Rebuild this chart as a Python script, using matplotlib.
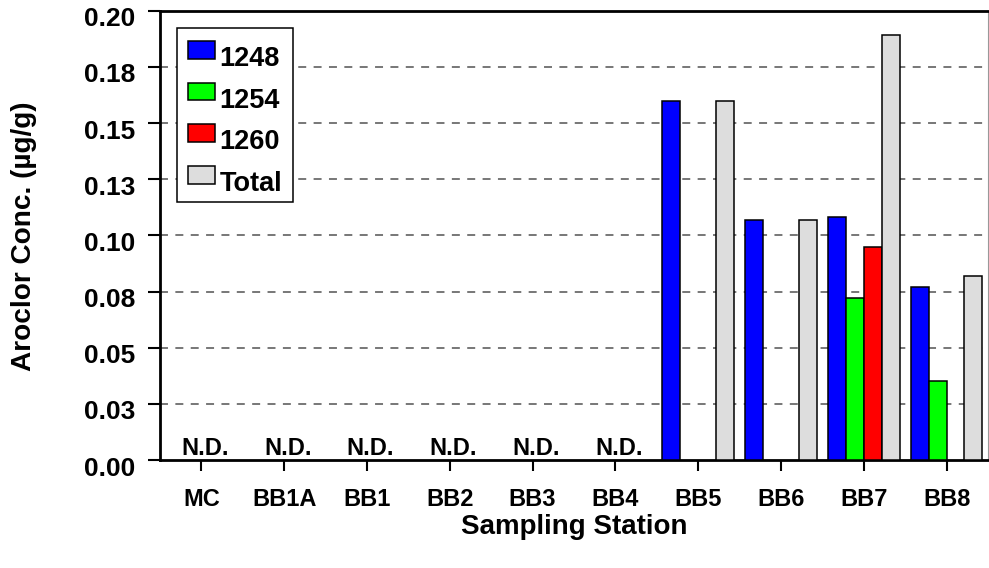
import numpy as np
import matplotlib
matplotlib.use("Agg")
import matplotlib.pyplot as plt
from matplotlib.transforms import ScaledTranslation

plt.rcParams["font.family"] = ["Liberation Sans", "DejaVu Sans"]
plt.rcParams["font.weight"] = "bold"

nan = np.nan
stations = ["MC", "BB1A", "BB1", "BB2", "BB3", "BB4", "BB5", "BB6", "BB7", "BB8"]
aro_1248 = [nan, nan, nan, nan, nan, nan, 0.160, 0.107, 0.108, 0.077]
aro_1254 = [nan, nan, nan, nan, nan, nan, nan, nan, 0.072, 0.035]
aro_1260 = [nan, nan, nan, nan, nan, nan, nan, nan, 0.095, nan]
aro_total = [nan, nan, nan, nan, nan, nan, 0.160, 0.107, 0.189, 0.082]
not_detected = ["MC", "BB1A", "BB1", "BB2", "BB3", "BB4"]
ytick_vals = [0.0, 0.025, 0.05, 0.075, 0.1, 0.125, 0.15, 0.175, 0.2]
ytick_labels = ["0.00", "0.03", "0.05", "0.08", "0.10", "0.13", "0.15", "0.18", "0.20"]

series = [("1248", aro_1248, "#0000ff"),
          ("1254", aro_1254, "#00ff00"),
          ("1260", aro_1260, "#ff0000"),
          ("Total", aro_total, "#dddddd")]

fig = plt.figure(figsize=(9.89, 5.68), dpi=100)
ax = fig.add_axes([160/989, 108/568, 828/989, 449.3/568])

x = np.arange(len(stations))
w = 0.216
for i, (name, vals, col) in enumerate(series):
    ax.bar(x + (i - 1.5)*w, vals, w, color=col, edgecolor="black",
           linewidth=1.1, label=name, zorder=3)

# N.D. labels sit a little right of the tick in the original
nd_off = ScaledTranslation(0.036, 0, fig.dpi_scale_trans)
for s in not_detected:
    ax.text(stations.index(s), 0.0022, "N.D.", ha="center", va="baseline",
            fontsize=17, fontweight="bold", zorder=4,
            transform=ax.transData + nd_off)

ax.set_xlim(-0.5, 9.5)
ax.set_ylim(0, 0.2)
ax.set_xticks(x)
ax.set_xticklabels(stations, fontsize=17, fontweight="bold")
ax.set_yticks(ytick_vals)
ax.set_yticklabels(ytick_labels, fontsize=19, fontweight="bold")
ax.tick_params(axis="both", direction="out", width=1.5, color="black")
ax.tick_params(axis="x", length=8, pad=12)
ax.tick_params(axis="y", length=9, pad=8.5)
off = ScaledTranslation(0, -0.06, fig.dpi_scale_trans)
for lab in ax.get_yticklabels():
    lab.set_transform(lab.get_transform() + off)

for yv in ytick_vals[1:-1]:
    ax.axhline(yv, color="#777777", lw=1.4, ls=(0, (4.1, 3.8)), zorder=1)

for sp in ax.spines.values():
    sp.set_linewidth(2.0)
ax.spines["right"].set_linewidth(0.8)
ax.spines["right"].set_color("#999999")

leg = ax.legend(loc="upper left", bbox_to_anchor=(0.0205, 0.9615),
                borderaxespad=0, fancybox=False, framealpha=1,
                edgecolor="black", fontsize=19.5, handlelength=1.0,
                handleheight=0.63, handletextpad=0.15, labelspacing=0.58,
                borderpad=0.42)
leg.get_frame().set_linewidth(1.1)
txt_off = ScaledTranslation(0, -0.065, fig.dpi_scale_trans)
for t in leg.get_texts():
    t.set_fontweight("bold")
    t.set_transform(t.get_transform() + txt_off)

fig.text(24.5/989, 1 - 236.7/568, "Aroclor Conc. (\u00b5g/g)", rotation=90,
         ha="center", va="center", fontsize=20.2, fontweight="bold")
fig.text(574/989, 1 - 527/568, "Sampling Station", ha="center", va="center",
         fontsize=20, fontweight="bold")

fig.savefig("out.png", dpi=100)
